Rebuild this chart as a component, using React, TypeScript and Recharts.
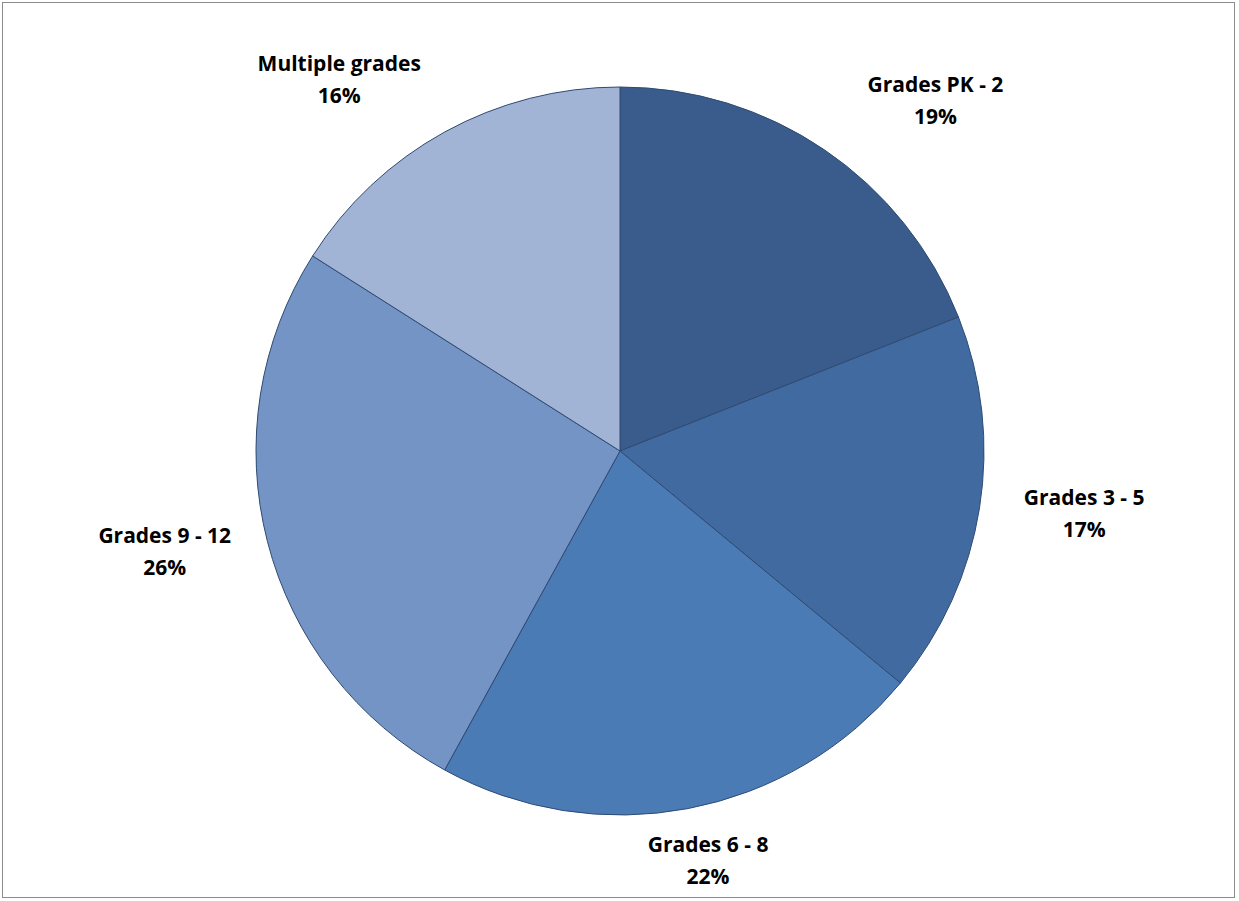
import { PieChart, Pie, Cell } from "recharts";

const categories = ["Grades PK - 2", "Grades 3 - 5", "Grades 6 - 8", "Grades 9 - 12", "Multiple grades"];
const shares = [19, 17, 22, 26, 16];
const colors = ["#3A5C8C", "#416BA0", "#4A7BB5", "#7394C5", "#A2B4D5"];

const data = categories.map((name, i) => ({ name, value: shares[i] }));

const RAD = Math.PI / 180;

const renderLabel = (props: any) => {
  const { cx, cy, midAngle, index } = props;
  const c = Math.cos(-midAngle * RAD);
  const s = Math.sin(-midAngle * RAD);
  const x = cx + 470 * c + (s < 0 ? 62 * Math.sign(c) * -s : 0);
  const y = cy + 420 * s;
  return (
    <text
      x={x}
      y={y}
      textAnchor="middle"
      fontFamily="'Open Sans', sans-serif"
      fontWeight={700}
      fontSize={21}
      fill="#000"
    >
      <tspan x={x} dy={-12}>{categories[index]}</tspan>
      <tspan x={x} dy={32}>{shares[index]}%</tspan>
    </text>
  );
};

export default function App() {
  return (
    <div style={{ position: "fixed", left: 0, top: 0, width: 1239, height: 901, background: "#fff" }}>
      <div
        style={{
          position: "absolute",
          left: 2,
          top: 2,
          width: 1231,
          height: 894,
          border: "1.5px solid #8c8c8c",
        }}
      />
      <PieChart width={1239} height={901}>
        <Pie
          data={data}
          dataKey="value"
          cx={615}
          cy={446}
          outerRadius={364}
          startAngle={90}
          endAngle={-270}
          stroke="#2E4A72"
          strokeWidth={1}
          label={renderLabel}
          labelLine={false}
          isAnimationActive={false}
        >
          {data.map((d, i) => (
            <Cell key={d.name} fill={colors[i]} />
          ))}
        </Pie>
      </PieChart>
    </div>
  );
}
